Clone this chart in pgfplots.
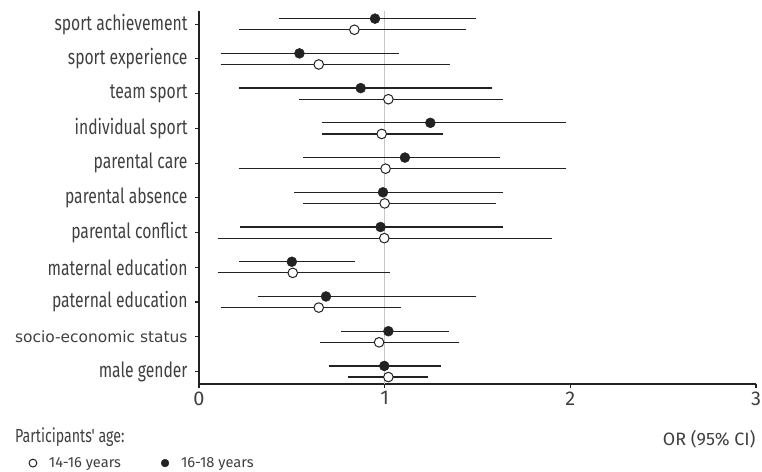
\documentclass[border=0pt]{standalone}
\usepackage{pgfplots}
\pgfplotsset{compat=1.18}
\usepackage{pgfplotstable}
\usepackage{fontspec}
\setmainfont{Fira Sans}
\newfontfamily\condfont{Fira Sans}[FakeStretch=0.75]
\newfontfamily\dvfont{DejaVu Sans}
\definecolor{txtgray}{HTML}{404040}
\definecolor{linegray}{HTML}{222222}

% 16-18 years (filled), row y = category + 0.16
\pgfplotstableread{
y     or    lo    hi
10.16 0.948 0.430 1.490
9.16  0.541 0.116 1.077
8.16  0.871 0.216 1.580
7.16  1.246 0.662 1.975
6.16  1.109 0.562 1.620
5.16  0.991 0.513 1.640
4.16  0.978 0.223 1.640
3.16  0.500 0.216 0.841
2.16  0.684 0.316 1.490
1.16  1.020 0.766 1.344
0.16  0.998 0.698 1.303
}\older

% 14-16 years (open), row y = category - 0.16
\pgfplotstableread{
y     or    lo    hi
9.84  0.837 0.216 1.440
8.84  0.645 0.116 1.353
7.84  1.020 0.541 1.640
6.84  0.984 0.662 1.314
5.84  1.005 0.216 1.975
4.84  1.000 0.562 1.600
3.84  0.998 0.105 1.903
2.84  0.505 0.105 1.027
1.84  0.645 0.116 1.090
0.84  0.970 0.652 1.403
-0.16 1.020 0.805 1.234
}\younger

\begin{document}
\begin{tikzpicture}
\begin{axis}[
    scale only axis,
    width=557bp, height=373bp,
    xmin=0, xmax=3,
    ymin=-0.36, ymax=10.38,
    axis x line*=bottom,
    axis y line*=left,
    axis line style={linegray, line width=1.3bp},
    tick style={linegray, line width=1.1bp},
    tick align=outside,
    major tick length=4bp,
    xtick={0,1,2,3},
    ytick={0,1,2,3,4,5,6,7,8,9,10},
    yticklabels={male gender,{\dvfont\fontsize{15.5}{16}\selectfont socio-economic status},paternal education,maternal education,parental conflict,parental absence,parental care,individual sport,team sport,sport experience,sport achievement},
    yticklabel style={font=\condfont\fontsize{21}{22}\selectfont, text=txtgray, xshift=-4bp},
    xticklabel style={font=\fontsize{20}{22}\selectfont, text=txtgray},
    /pgf/number format/assume math mode=true,
    xlabel={OR (95\% CI)},
    xlabel style={at={(rel axis cs:1.0054,-0.1475)}, anchor=east, font=\fontsize{18}{20}\selectfont, text=txtgray},
    legend style={at={(rel axis cs:-0.311,-0.212)}, anchor=west, draw=none, fill=none,
        legend columns=2, font=\fontsize{14.7}{16}\selectfont, text=txtgray,
        /tikz/every even column/.append style={column sep=38bp}},
    legend image code/.code={%
        \path[draw=none, fill=none] (-4bp,-3bp) rectangle (14bp,3bp);
        \draw[#1, mark size=3.9bp] plot coordinates {(0bp,0bp)};},
    clip=false,
]
\draw[gray!45, line width=1bp] (axis cs:1,-0.36) -- (axis cs:1,10.38);

\addplot[only marks, mark=*, mark size=4.8bp, draw=linegray, fill=white, line width=1bp,
    error bars/.cd, x dir=both, x explicit, error mark=none,
    error bar style={linegray, line width=1.2bp}]
    table[x=or, y=y, x error minus expr=\thisrow{or}-\thisrow{lo}, x error plus expr=\thisrow{hi}-\thisrow{or}] {\younger};
\addlegendentry{14-16 years}

\addplot[only marks, mark=*, mark size=5bp, draw=linegray, fill=linegray,
    error bars/.cd, x dir=both, x explicit, error mark=none,
    error bar style={linegray, line width=1.2bp}]
    table[x=or, y=y, x error minus expr=\thisrow{or}-\thisrow{lo}, x error plus expr=\thisrow{hi}-\thisrow{or}] {\older};
\addlegendentry{16-18 years}

\node[anchor=west, font=\condfont\fontsize{19}{20}\selectfont, text=txtgray, inner sep=0pt]
    at (rel axis cs:-0.3303,-0.142) {Participants' age:};
\coordinate (o) at (rel axis cs:0,0);
\end{axis}
\pgfresetboundingbox
\path[use as bounding box] (o) ++(-199bp,-88bp) rectangle ++(762bp,472bp);
\end{tikzpicture}
\end{document}
